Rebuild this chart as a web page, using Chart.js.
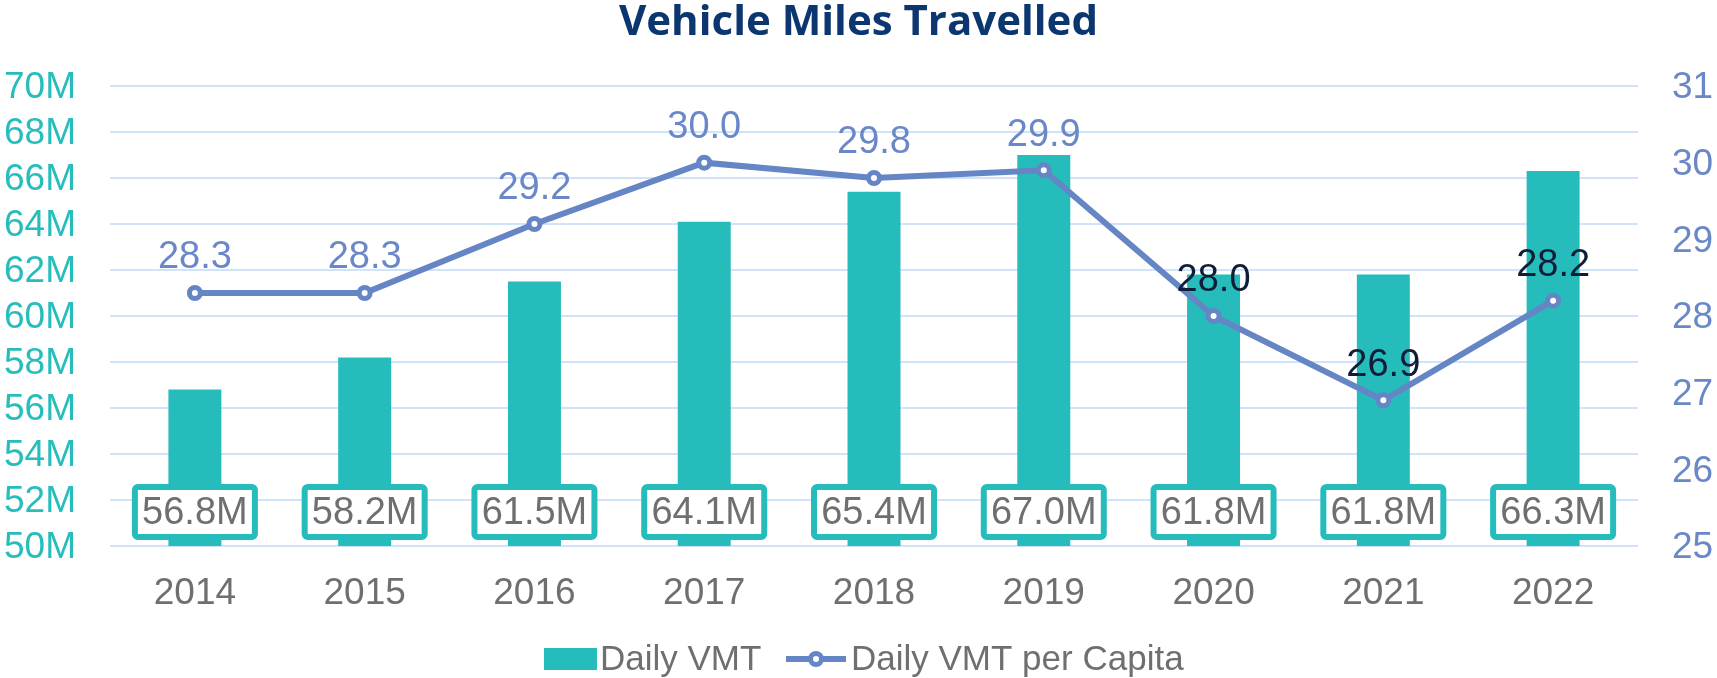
<!DOCTYPE html>
<html>
<head>
<meta charset="utf-8">
<script src="https://cdn.jsdelivr.net/npm/chart.js@4/dist/chart.umd.min.js"></script>
<style>
  html, body { margin: 0; padding: 0; background: #fff; }
  #wrap { width: 1717px; height: 678px; }
</style>
</head>
<body>
<div id="wrap"><canvas id="myChart" width="1717" height="678"></canvas></div>
<script>
// datos del grafico
const years = ['2014', '2015', '2016', '2017', '2018', '2019', '2020', '2021', '2022'];
const dailyVmt = [56.8e6, 58.2e6, 61.5e6, 64.1e6, 65.4e6, 67.0e6, 61.8e6, 61.8e6, 66.3e6];
const vmtPerCapita = [28.3, 28.3, 29.2, 30.0, 29.8, 29.9, 28.0, 26.9, 28.2];
const leftTicks = [50e6, 52e6, 54e6, 56e6, 58e6, 60e6, 62e6, 64e6, 66e6, 68e6, 70e6];
const rightTicks = [25, 26, 27, 28, 29, 30, 31];

const teal = '#26bcbc';
const lineBlue = '#6585c5';
const grayText = '#6f6f6f';
const FONT = "'Liberation Sans', Arial, sans-serif";

// etiquetas de datos (cajas en las barras y valores sobre la linea)
const etiquetas = {
    id: 'etiquetas',
    afterDatasetsDraw(chart) {
        const ctx = chart.ctx;
        const yScale = chart.scales.y;
        const barMeta = chart.getDatasetMeta(0);
        const lineMeta = chart.getDatasetMeta(1);
        ctx.save();
        ctx.font = '38px ' + FONT;
        ctx.textAlign = 'center';
        ctx.textBaseline = 'middle';

        const cy = yScale.getPixelForValue(leftTicks[0]) - 34;
        barMeta.data.forEach((bar, i) => {
            const w = 126, h = 56, bw = 6;
            ctx.beginPath();
            ctx.roundRect(bar.x - w / 2 + bw / 2, cy - h / 2 + bw / 2, w - bw, h - bw, 3);
            ctx.fillStyle = '#ffffff';
            ctx.fill();
            ctx.lineWidth = bw;
            ctx.strokeStyle = teal;
            ctx.stroke();
            ctx.fillStyle = grayText;
            ctx.fillText((dailyVmt[i] / 1e6).toFixed(1) + 'M', bar.x, cy + 2);
        });

        lineMeta.data.forEach((pt, i) => {
            ctx.fillStyle = i >= 6 ? '#0f1e38' : '#6a88c8';
            ctx.fillText(vmtPerCapita[i].toFixed(1), pt.x, pt.y - 35);
        });
        ctx.restore();
    }
};

// leyenda dibujada a mano
const leyenda = {
    id: 'leyenda',
    afterDraw(chart) {
        const ctx = chart.ctx;
        const y = 659;
        ctx.save();
        ctx.fillStyle = teal;
        ctx.fillRect(544, y - 11, 53, 22);
        ctx.font = '35px ' + FONT;
        ctx.textAlign = 'left';
        ctx.textBaseline = 'middle';
        ctx.fillStyle = grayText;
        ctx.fillText('Daily VMT', 600, y + 1);

        ctx.strokeStyle = lineBlue;
        ctx.lineWidth = 6;
        ctx.beginPath();
        ctx.moveTo(786, y);
        ctx.lineTo(846, y);
        ctx.stroke();
        ctx.lineWidth = 5;
        ctx.beginPath();
        ctx.arc(816, y, 5.5, 0, Math.PI * 2);
        ctx.fillStyle = '#ffffff';
        ctx.fill();
        ctx.stroke();

        ctx.fillStyle = grayText;
        ctx.fillText('Daily VMT per Capita', 851, y + 1);
        ctx.restore();
    }
};

const ctx = document.getElementById('myChart').getContext('2d');
const myChart = new Chart(ctx, {
    type: 'bar',
    data: {
        labels: years,
        datasets: [
            {
                type: 'bar',
                label: 'Daily VMT',
                data: dailyVmt,
                backgroundColor: teal,
                yAxisID: 'y',
                categoryPercentage: 1,
                barPercentage: 0.312,
                order: 2
            },
            {
                type: 'line',
                label: 'Daily VMT per Capita',
                data: vmtPerCapita,
                borderColor: lineBlue,
                borderWidth: 6,
                pointRadius: 5.5,
                pointBorderWidth: 5,
                pointBackgroundColor: '#ffffff',
                pointBorderColor: lineBlue,
                tension: 0,
                yAxisID: 'y1',
                order: 1
            }
        ]
    },
    options: {
        responsive: false,
        animation: false,
        layout: { padding: 0 },
        plugins: {
            legend: { display: false },
            tooltip: { enabled: false },
            title: {
                display: true,
                text: 'Vehicle Miles Travelled',
                color: '#0c366f',
                font: { family: "'Open Sans', sans-serif", size: 42, weight: 'bold', lineHeight: 1 },
                padding: { top: 2, bottom: 42 }
            }
        },
        scales: {
            x: {
                grid: { display: false, drawTicks: false },
                border: { display: false },
                ticks: { color: grayText, font: { family: FONT, size: 37 }, padding: 26 },
                afterFit(scale) { scale.height = 132; }
            },
            y: {
                position: 'left',
                min: leftTicks[0],
                max: leftTicks[leftTicks.length - 1],
                afterBuildTicks(scale) { scale.ticks = leftTicks.map(v => ({ value: v })); },
                grid: { color: '#cfe3fa', lineWidth: 2, drawTicks: false },
                border: { display: false },
                ticks: {
                    autoSkip: false,
                    color: '#28bdbd',
                    font: { family: FONT, size: 37 },
                    padding: 34,
                    labelOffset: 2,
                    callback: v => (v / 1e6) + 'M'
                },
                afterFit(scale) { scale.width = 110; }
            },
            y1: {
                position: 'right',
                min: rightTicks[0],
                max: rightTicks[rightTicks.length - 1],
                afterBuildTicks(scale) { scale.ticks = rightTicks.map(v => ({ value: v })); },
                grid: { display: false, drawTicks: false },
                border: { display: false },
                ticks: { autoSkip: false, color: '#6a88c8', font: { family: FONT, size: 37 }, padding: 34, labelOffset: 2 },
                afterFit(scale) { scale.width = 79; }
            }
        }
    },
    plugins: [etiquetas, leyenda]
});
</script>
</body>
</html>
